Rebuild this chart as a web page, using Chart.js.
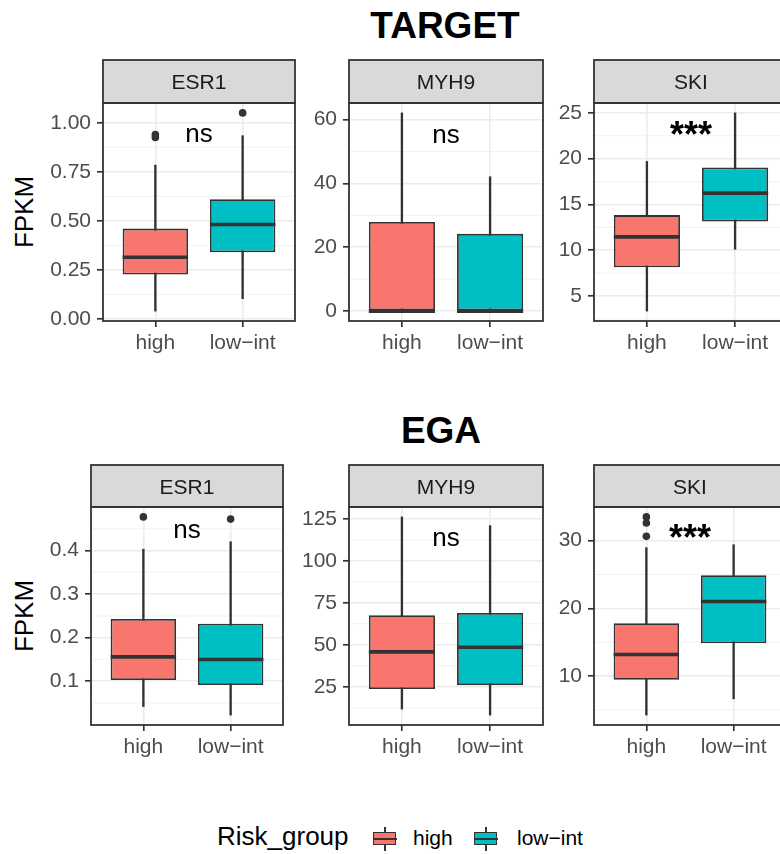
<!DOCTYPE html>
<html>
<head>
<meta charset="utf-8">
<script src="https://cdn.jsdelivr.net/npm/chart.js@4.4.0/dist/chart.umd.min.js"></script>
<style>
  html, body { margin: 0; padding: 0; background: #fff; }
  body { width: 780px; height: 854px; overflow: hidden; position: relative; font-family: 'Liberation Sans', Arial, sans-serif; }
  canvas { position: absolute; }
  .txt { position: absolute; line-height: 1; white-space: nowrap; color: #000; }
  .title { font-size: 37px; font-weight: bold; transform: translateX(-50%); }
  .ylab { font-size: 26px; transform: translate(-50%, -50%) rotate(-90deg); }
  .key { position: absolute; width: 24px; height: 24px; }
  .key .wh { position: absolute; left: 11.2px; top: 0; width: 1.6px; height: 24px; background: #333; }
  .key .bx { position: absolute; left: 0; top: 5px; width: 21px; height: 11px; border: 1.5px solid #333; }
  .key .md { position: absolute; left: 0; top: 11px; width: 24px; height: 2.4px; background: #333; }
</style>
</head>
<body>
<div class="txt title" style="left:445px; top:7px;">TARGET</div>
<div class="txt title" style="left:441px; top:412px;">EGA</div>
<div class="txt ylab" style="left:24px; top:212px;">FPKM</div>
<div class="txt ylab" style="left:24px; top:616px;">FPKM</div>

<div class="txt" style="left:217px; top:823px; font-size:26px;">Risk_group</div>
<div class="key" style="left:373px; top:827px;"><div class="wh"></div><div class="bx" style="background:#F8766D"></div><div class="md"></div></div>
<div class="txt" style="left:413px; top:827px; font-size:21px;">high</div>
<div class="key" style="left:474px; top:827px;"><div class="wh"></div><div class="bx" style="background:#00BFC4"></div><div class="md"></div></div>
<div class="txt" style="left:517px; top:827px; font-size:21px;">low&#8722;int</div>

<script>
// ---- data ----
const groups = ['high', 'low-int'];
const groupColors = ['#F8766D', '#00BFC4'];
const genes = ['ESR1', 'MYH9', 'SKI'];

// box summaries per group: [lower whisker, Q1, median, Q3, upper whisker]
const targetEsr1Box = [[0.041, 0.227, 0.315, 0.461, 0.784], [0.104, 0.340, 0.482, 0.611, 0.934]];
const targetMyh9Box = [[0, 0, 0, 27.9, 62.1], [0, 0, 0, 24.2, 42.1]];
const targetSkiBox  = [[3.36, 8.14, 11.46, 13.84, 19.7], [10.11, 13.14, 16.24, 19.05, 25.0]];
const egaEsr1Box    = [[0.042, 0.103, 0.156, 0.243, 0.403], [0.0225, 0.0915, 0.150, 0.232, 0.420]];
const egaMyh9Box    = [[11.7, 23.6, 45.8, 67.6, 126.2], [8.1, 25.95, 48.5, 69.0, 121.0]];
const egaSkiBox     = [[4.26, 9.46, 13.19, 17.8, 28.97], [6.66, 14.85, 21.03, 24.9, 29.4]];

// outliers per group
const targetEsr1Out = [[0.925, 0.94], [1.05]];
const targetMyh9Out = [[], []];
const targetSkiOut  = [[], []];
const egaEsr1Out    = [[0.477], [0.472]];
const egaMyh9Out    = [[], []];
const egaSkiOut     = [[33.5, 32.6, 30.63], []];

// y tick labels
const targetEsr1Ticks = ['0.00', '0.25', '0.50', '0.75', '1.00'];
const targetMyh9Ticks = ['0', '20', '40', '60'];
const targetSkiTicks  = ['5', '10', '15', '20', '25'];
const egaEsr1Ticks    = ['0.1', '0.2', '0.3', '0.4'];
const egaMyh9Ticks    = ['25', '50', '75', '100', '125'];
const egaSkiTicks     = ['10', '20', '30'];

// comparison labels and where they sit
const targetSig  = ['ns', 'ns', '***'];
const targetSigY = [0.935, 55.0, 23.36];
const egaSig     = ['ns', 'ns', '***'];
const egaSigY    = [0.4448, 113.2, 31.35];

// ---- layout ----
const FONT = "'Liberation Sans', Arial, sans-serif";
const rowTop = [59, 464];
const stripH = [44, 43];
const colLeft = [[103, 349, 594], [91, 349, 594]];
const panelW = 194, plotH = 218, YW = 70, XH = 45;

const panels = [
  { row: 0, col: 0, box: targetEsr1Box, out: targetEsr1Out, ticks: targetEsr1Ticks, sig: targetSig[0], sigY: targetSigY[0] },
  { row: 0, col: 1, box: targetMyh9Box, out: targetMyh9Out, ticks: targetMyh9Ticks, sig: targetSig[1], sigY: targetSigY[1] },
  { row: 0, col: 2, box: targetSkiBox,  out: targetSkiOut,  ticks: targetSkiTicks,  sig: targetSig[2], sigY: targetSigY[2] },
  { row: 1, col: 0, box: egaEsr1Box,    out: egaEsr1Out,    ticks: egaEsr1Ticks,    sig: egaSig[0],    sigY: egaSigY[0] },
  { row: 1, col: 1, box: egaMyh9Box,    out: egaMyh9Out,    ticks: egaMyh9Ticks,    sig: egaSig[1],    sigY: egaSigY[1] },
  { row: 1, col: 2, box: egaSkiBox,     out: egaSkiOut,     ticks: egaSkiTicks,     sig: egaSig[2],    sigY: egaSigY[2] }
];

Chart.defaults.font.family = FONT;

// minor grid, medians, p-value label, strip and frame
function extrasFor(p) {
  return {
    id: 'boxExtras',
    beforeDatasetsDraw(chart) {
      const { ctx, chartArea: a, scales: { y } } = chart;
      const vals = p.ticks.map(Number);
      const step = vals[1] - vals[0];
      const minors = vals.map(v => v - step / 2).concat(vals[vals.length - 1] + step / 2)
        .filter(v => v > y.min && v < y.max);
      ctx.save();
      ctx.strokeStyle = '#EFEFEF';
      ctx.lineWidth = 0.9;
      minors.forEach(v => {
        const py = y.getPixelForValue(v);
        ctx.beginPath(); ctx.moveTo(a.left, py); ctx.lineTo(a.right, py); ctx.stroke();
      });
      ctx.restore();
    },
    afterDatasetsDraw(chart) {
      const { ctx, chartArea: a, scales: { x, y } } = chart;
      const bars = chart.getDatasetMeta(0).data;
      ctx.save();
      ctx.strokeStyle = '#333333';
      ctx.lineWidth = 3.6;
      p.box.forEach((b, i) => {
        const w = bars[i].width;
        const cx = x.getPixelForValue(i + 1);
        const py = y.getPixelForValue(b[2]);
        ctx.beginPath(); ctx.moveTo(cx - w / 2, py); ctx.lineTo(cx + w / 2, py); ctx.stroke();
      });
      // comparison label, ink centred on its value
      ctx.fillStyle = '#000';
      ctx.font = (p.sig === '***' ? 'bold 36px ' : '26px ') + FONT;
      ctx.textAlign = 'center';
      ctx.textBaseline = 'alphabetic';
      const m = ctx.measureText(p.sig);
      const cy = y.getPixelForValue(p.sigY);
      ctx.fillText(p.sig, x.getPixelForValue(1.5), cy + (m.actualBoundingBoxAscent - m.actualBoundingBoxDescent) / 2);
      ctx.restore();
    },
    afterDraw(chart) {
      const { ctx, chartArea: a } = chart;
      ctx.save();
      ctx.fillStyle = '#D9D9D9';
      ctx.fillRect(a.left, 1, a.right - a.left, a.top - 1);
      ctx.strokeStyle = '#333333';
      ctx.lineWidth = 1.8;
      ctx.strokeRect(a.left, 1, a.right - a.left, a.top - 1);
      ctx.strokeRect(a.left, a.top, a.right - a.left, a.bottom - a.top);
      ctx.fillStyle = '#1A1A1A';
      ctx.font = '21px ' + FONT;
      ctx.textAlign = 'center';
      ctx.textBaseline = 'alphabetic';
      ctx.fillText(genes[p.col], (a.left + a.right) / 2, (1 + a.top) / 2 + 7.5);
      ctx.restore();
    }
  };
}

function makePanel(p) {
  const canvas = document.createElement('canvas');
  canvas.width = YW + panelW + 2;
  canvas.height = stripH[p.row] + plotH + XH;
  canvas.style.left = (colLeft[p.row][p.col] - YW) + 'px';
  canvas.style.top = rowTop[p.row] + 'px';
  document.body.appendChild(canvas);

  // y range: data extent plus 5% each side
  const vals = p.box.flat().concat(p.out.flat());
  const lo = Math.min(...vals), hi = Math.max(...vals);
  const pad = (hi - lo) * 0.05;

  const gridOpts = { color: '#EBEBEB', lineWidth: 1.6, tickColor: '#333333', tickWidth: 1.7, tickLength: 6, offset: false };
  const tickFont = { size: 21, family: FONT };

  new Chart(canvas, {
    type: 'bar',
    data: {
      datasets: [
        {
          label: 'box',
          data: groups.map((g, i) => ({ x: i + 1, y: [p.box[i][1], p.box[i][3]] })),
          backgroundColor: groupColors,
          borderColor: '#333333',
          borderWidth: 1.8,
          borderSkipped: false,
          grouped: false,
          categoryPercentage: 1,
          barPercentage: 0.75,
          order: 1
        },
        {
          label: 'whisker',
          data: groups.map((g, i) => ({ x: i + 1, y: [p.box[i][0], p.box[i][4]] })),
          backgroundColor: '#333333',
          borderWidth: 0,
          grouped: false,
          barThickness: 1.7,
          maxBarThickness: 1.7,
          order: 2
        },
        {
          type: 'scatter',
          label: 'outliers',
          data: p.out.flatMap((arr, i) => arr.map(v => ({ x: i + 1, y: v }))),
          pointRadius: 3.8,
          backgroundColor: '#333333',
          borderWidth: 0,
          order: 0
        }
      ]
    },
    options: {
      responsive: false,
      animation: false,
      events: [],
      layout: { padding: { top: stripH[p.row], right: 2, left: 0, bottom: 0 } },
      plugins: { legend: { display: false }, tooltip: { enabled: false } },
      scales: {
        x: {
          type: 'linear', min: 0.4, max: 2.6, offset: false,
          afterBuildTicks: s => { s.ticks = groups.map((g, i) => ({ value: i + 1 })); },
          afterFit: s => { s.height = XH; },
          ticks: {
            callback: v => groups[Math.round(v) - 1].replace('-', '\u2212'),
            color: '#4D4D4D', font: tickFont, padding: 4, maxRotation: 0, autoSkip: false
          },
          grid: gridOpts,
          border: { display: false }
        },
        y: {
          type: 'linear', min: lo - pad, max: hi + pad, beginAtZero: false,
          afterBuildTicks: s => { s.ticks = p.ticks.map(t => ({ value: Number(t) })); },
          afterFit: s => { s.width = YW; },
          ticks: {
            callback: (v, i) => p.ticks[i],
            color: '#4D4D4D', font: tickFont, padding: 6
          },
          grid: gridOpts,
          border: { display: false }
        }
      }
    },
    plugins: [extrasFor(p)]
  });
}

panels.forEach(makePanel);
</script>
</body>
</html>
